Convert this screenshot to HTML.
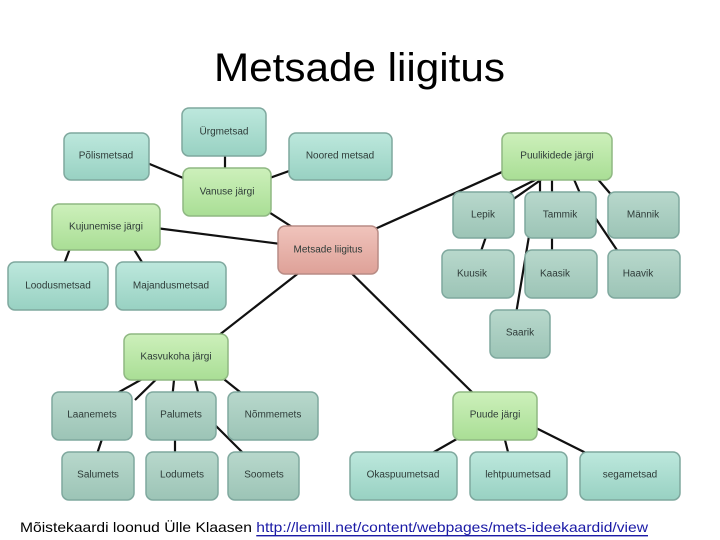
<!DOCTYPE html>
<html><head><meta charset="utf-8"><style>
html,body{margin:0;padding:0;background:#fff;width:720px;height:540px;overflow:hidden}
svg{display:block}
text{font-family:"Liberation Sans",sans-serif;font-size:10px;fill:#2e3b38;text-anchor:middle;dominant-baseline:central}
</style></head><body>
<svg width="720" height="540" xmlns="http://www.w3.org/2000/svg">
<defs>
<linearGradient id="t" x1="0" y1="0" x2="0" y2="1"><stop offset="0" stop-color="#bde8dd"/><stop offset="1" stop-color="#98d1c2"/></linearGradient>
<linearGradient id="g2" x1="0" y1="0" x2="0" y2="1"><stop offset="0" stop-color="#b8d8cc"/><stop offset="1" stop-color="#9cc4b6"/></linearGradient>
<linearGradient id="g" x1="0" y1="0" x2="0" y2="1"><stop offset="0" stop-color="#cdf0bb"/><stop offset="1" stop-color="#a9de95"/></linearGradient>
<linearGradient id="p" x1="0" y1="0" x2="0" y2="1"><stop offset="0" stop-color="#f0c4bc"/><stop offset="1" stop-color="#dea198"/></linearGradient>
</defs>
<text x="214" y="68" textLength="291" lengthAdjust="spacingAndGlyphs" style="font-size:40px;fill:#000;text-anchor:start">Metsade liigitus</text>
<g stroke="#111" stroke-width="2.2" fill="none">
<line x1="328" y1="250" x2="250" y2="200"/>
<line x1="328" y1="250" x2="140" y2="226"/>
<line x1="328" y1="250" x2="200" y2="350"/>
<line x1="328" y1="250" x2="480" y2="400"/>
<line x1="328" y1="250" x2="540" y2="155"/>
<line x1="225" y1="140" x2="225" y2="180"/>
<line x1="140" y1="160" x2="200" y2="185"/>
<line x1="320" y1="160" x2="250" y2="185"/>
<line x1="75" y1="235" x2="60" y2="275"/>
<line x1="125" y1="235" x2="150" y2="275"/>
<line x1="555" y1="170" x2="485" y2="205"/>
<line x1="555" y1="170" x2="505" y2="205"/>
<line x1="540" y1="175" x2="540" y2="205"/>
<line x1="552" y1="175" x2="552" y2="205"/>
<line x1="570" y1="170" x2="585" y2="205"/>
<line x1="590" y1="170" x2="620" y2="205"/>
<line x1="490" y1="225" x2="478" y2="260"/>
<line x1="552" y1="225" x2="552" y2="260"/>
<line x1="590" y1="210" x2="625" y2="262"/>
<line x1="530" y1="230" x2="515" y2="320"/>
<line x1="176" y1="360" x2="105" y2="400"/>
<line x1="176" y1="360" x2="135" y2="400"/>
<line x1="176" y1="360" x2="172" y2="400"/>
<line x1="190" y1="360" x2="200" y2="400"/>
<line x1="200" y1="360" x2="250" y2="400"/>
<line x1="105" y1="430" x2="95" y2="460"/>
<line x1="175" y1="430" x2="175" y2="460"/>
<line x1="210" y1="420" x2="250" y2="460"/>
<line x1="490" y1="420" x2="420" y2="460"/>
<line x1="500" y1="420" x2="510" y2="460"/>
<line x1="520" y1="420" x2="600" y2="460"/>
</g>
<g stroke-width="1.5">
<rect x="182" y="108" width="84" height="48" rx="7" fill="url(#t)" stroke="#7fa89e"/><text x="224" y="132">Ürgmetsad</text>
<rect x="64" y="133" width="85" height="47" rx="7" fill="url(#t)" stroke="#7fa89e"/><text x="106" y="156">Põlismetsad</text>
<rect x="289" y="133" width="103" height="47" rx="7" fill="url(#t)" stroke="#7fa89e"/><text x="340" y="156">Noored metsad</text>
<rect x="183" y="168" width="88" height="48" rx="7" fill="url(#g)" stroke="#8fb882"/><text x="227" y="192">Vanuse järgi</text>
<rect x="52" y="204" width="108" height="46" rx="7" fill="url(#g)" stroke="#8fb882"/><text x="106" y="227">Kujunemise järgi</text>
<rect x="8" y="262" width="100" height="48" rx="7" fill="url(#t)" stroke="#7fa89e"/><text x="58" y="286">Loodusmetsad</text>
<rect x="116" y="262" width="110" height="48" rx="7" fill="url(#t)" stroke="#7fa89e"/><text x="171" y="286">Majandusmetsad</text>
<rect x="278" y="226" width="100" height="48" rx="7" fill="url(#p)" stroke="#b88c85"/><text x="328" y="250">Metsade liigitus</text>
<rect x="502" y="133" width="110" height="47" rx="7" fill="url(#g)" stroke="#8fb882"/><text x="557" y="156">Puulikidede järgi</text>
<rect x="453" y="192" width="61" height="46" rx="7" fill="url(#g2)" stroke="#7fa89e"/><text x="483" y="215">Lepik</text>
<rect x="525" y="192" width="71" height="46" rx="7" fill="url(#g2)" stroke="#7fa89e"/><text x="560" y="215">Tammik</text>
<rect x="608" y="192" width="71" height="46" rx="7" fill="url(#g2)" stroke="#7fa89e"/><text x="643" y="215">Männik</text>
<rect x="442" y="250" width="72" height="48" rx="7" fill="url(#g2)" stroke="#7fa89e"/><text x="472" y="274">Kuusik</text>
<rect x="525" y="250" width="72" height="48" rx="7" fill="url(#g2)" stroke="#7fa89e"/><text x="555" y="274">Kaasik</text>
<rect x="608" y="250" width="72" height="48" rx="7" fill="url(#g2)" stroke="#7fa89e"/><text x="638" y="274">Haavik</text>
<rect x="490" y="310" width="60" height="48" rx="7" fill="url(#g2)" stroke="#7fa89e"/><text x="520" y="333">Saarik</text>
<rect x="124" y="334" width="104" height="46" rx="7" fill="url(#g)" stroke="#8fb882"/><text x="176" y="357">Kasvukoha järgi</text>
<rect x="52" y="392" width="80" height="48" rx="7" fill="url(#g2)" stroke="#7fa89e"/><text x="92" y="415">Laanemets</text>
<rect x="146" y="392" width="70" height="48" rx="7" fill="url(#g2)" stroke="#7fa89e"/><text x="181" y="415">Palumets</text>
<rect x="228" y="392" width="90" height="48" rx="7" fill="url(#g2)" stroke="#7fa89e"/><text x="273" y="415">Nõmmemets</text>
<rect x="62" y="452" width="72" height="48" rx="7" fill="url(#g2)" stroke="#7fa89e"/><text x="98" y="475">Salumets</text>
<rect x="146" y="452" width="72" height="48" rx="7" fill="url(#g2)" stroke="#7fa89e"/><text x="182" y="475">Lodumets</text>
<rect x="228" y="452" width="71" height="48" rx="7" fill="url(#g2)" stroke="#7fa89e"/><text x="264" y="475">Soomets</text>
<rect x="453" y="392" width="84" height="48" rx="7" fill="url(#g)" stroke="#8fb882"/><text x="495" y="415">Puude järgi</text>
<rect x="350" y="452" width="107" height="48" rx="7" fill="url(#t)" stroke="#7fa89e"/><text x="403" y="475">Okaspuumetsad</text>
<rect x="470" y="452" width="97" height="48" rx="7" fill="url(#t)" stroke="#7fa89e"/><text x="518" y="475">lehtpuumetsad</text>
<rect x="580" y="452" width="100" height="48" rx="7" fill="url(#t)" stroke="#7fa89e"/><text x="630" y="475">segametsad</text>
</g>
<text x="20" y="527" textLength="628" lengthAdjust="spacingAndGlyphs" style="font-size:14px;fill:#000;text-anchor:start">Mõistekaardi loonud Ülle Klaasen <tspan fill="#1a1aa6" text-decoration="underline">http://lemill.net/content/webpages/mets-ideekaardid/view</tspan></text>
</svg>
</body></html>
